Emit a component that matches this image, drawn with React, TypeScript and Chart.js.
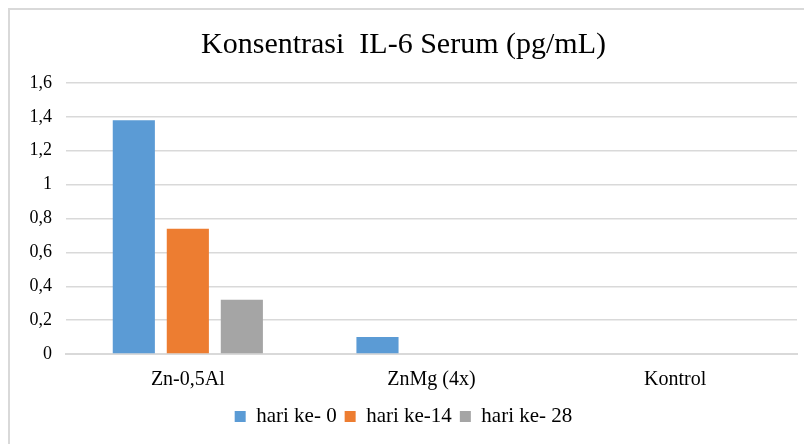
import React, { useEffect, useRef } from "react";
import { Chart, registerables } from "chart.js";

Chart.register(...registerables);

const categories = ["Zn-0,5Al", "ZnMg (4x)", "Kontrol"];
const seriesNames = ["hari ke- 0", "hari ke-14", "hari ke- 28"];
const day0 = [1.38, 0.1, 0];
const day14 = [0.74, 0, 0];
const day28 = [0.32, 0, 0];
const yTicks = [0, 0.2, 0.4, 0.6, 0.8, 1, 1.2, 1.4, 1.6];
const colors = ["#5B9BD5", "#ED7D31", "#A5A5A5"];

export default function App() {
  const ref = useRef<HTMLCanvasElement | null>(null);
  useEffect(() => {
    if (!ref.current) return;
    const font = "'Liberation Serif', 'Times New Roman', serif";
    const chart = new Chart(ref.current, {
      type: "bar",
      data: {
        labels: categories,
        datasets: [day0, day14, day28].map((d, i) => ({
          label: seriesNames[i],
          data: d,
          backgroundColor: colors[i],
          borderWidth: 0,
          categoryPercentage: 0.665,
          barPercentage: 0.78,
        })),
      },
      options: {
        animation: false,
        responsive: true,
        maintainAspectRatio: false,
        layout: { padding: { left: 0, right: 7, top: 4, bottom: 7 } },
        plugins: {
          title: {
            display: true,
            text: "Konsentrasi  IL-6 Serum (pg/mL)",
            color: "#000000",
            font: { family: font, size: 30, weight: "normal" },
            padding: { top: 13, bottom: 20 },
          },
          legend: {
            position: "bottom",
            labels: {
              color: "#000000",
              font: { family: font, size: 21 },
              boxWidth: 11,
              boxHeight: 11,
              padding: 8,
            },
          },
          tooltip: { enabled: false },
        },
        scales: {
          x: {
            grid: { display: false },
            border: { display: true, color: "#d9d9d9", width: 2 },
            ticks: { color: "#000000", font: { family: font, size: 20 }, padding: 6 },
          },
          y: {
            min: 0,
            max: 1.6,
            afterFit: (s: any) => {
              s.width = 56;
            },
            afterBuildTicks: (s: any) => {
              s.ticks = yTicks.map((v) => ({ value: v }));
            },
            grid: { color: "#d9d9d9", lineWidth: 1.5, drawTicks: false },
            border: { display: false },
            ticks: {
              color: "#000000",
              font: { family: font, size: 18 },
              padding: 14,
              callback: (v: any) => String(Math.round(Number(v) * 10) / 10).replace(".", ","),
            },
          },
        },
      },
    });
    return () => chart.destroy();
  }, []);
  return (
    <div
      style={{
        width: 796,
        height: 436,
        borderLeft: "2px solid #d9d9d9",
        borderTop: "2px solid #d9d9d9",
        boxSizing: "border-box",
        position: "relative",
        background: "#fff",
      }}
    >
      <canvas ref={ref} />
    </div>
  );
}
